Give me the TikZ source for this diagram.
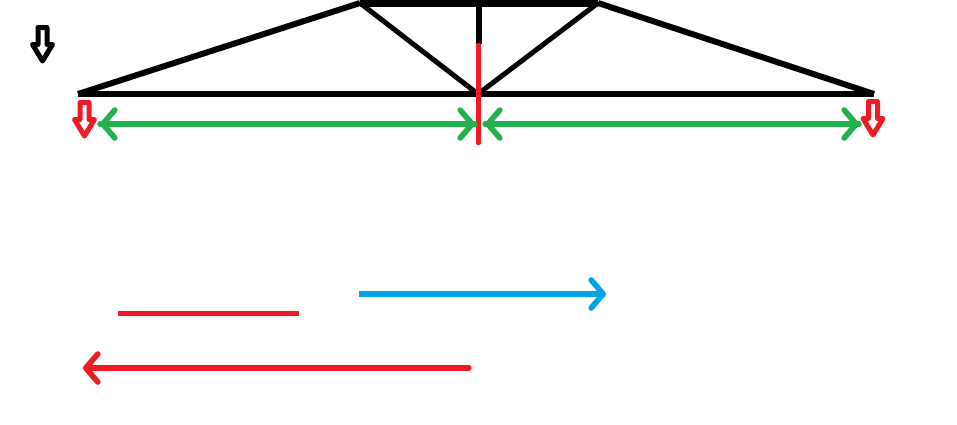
\documentclass[tikz,border=0pt]{standalone}
\usetikzlibrary{arrows.meta}
\definecolor{pred}{HTML}{ED1C24}
\definecolor{pgreen}{HTML}{22B14C}
\definecolor{pblue}{HTML}{00A2E8}
\tikzset{
  chord/.style={black,line width=6.5pt},
  web/.style={black,line width=5pt},
  barb/.style={-{Straight Barb[length=12pt,width=28pt,line width=5.6pt,round]},line width=5.4pt},
  greenarrow/.style={barb,pgreen,line cap=round},
  load/.style={line width=5pt,line join=round},
  hollowload/.pic={
    \draw[load,pic actions] (-4.5,0) -- (4.5,0) -- (4.5,17) -- (10,17) -- (0,33.5) -- (-10,17) -- (-4.5,17) -- cycle;
  }
}
\begin{document}
\begin{tikzpicture}[x=1pt,y=-1pt]
\useasboundingbox (0,0) rectangle (957,424);
\fill[white] (0,0) rectangle (957,424);
% truss joints
\coordinate (L) at (78,94);
\coordinate (R) at (874,94);
\coordinate (M) at (478,94);
\coordinate (TL) at (360,3);
\coordinate (TR) at (598,3);
\coordinate (TM) at (479,3);
\coordinate (VM) at (479,44);
\coordinate (VB) at (478.5,143);
\coordinate (VT) at (478.5,45);
% members
\draw[chord] (L) -- (R);
\draw[chord,line width=7pt] (TL) -- (TR);
\draw[line width=6pt] (L) -- (TL);
\draw[line width=6pt] (TR) -- (R);
\draw[web] (TL) -- (M);
\draw[web] (TR) -- (M);
\draw[line width=5.5pt] (TM) -- (VM);
\draw[pred,line width=4.6pt,line cap=round] (VT) -- (VB);
% hollow load arrows
\path (42.5,27.5) pic[black] {hollowload};
\path (84.5,102.5) pic[pred] {hollowload};
\path (873,101.5) pic[pred] {hollowload};
% green span arrows
\coordinate (GA) at (100,124);
\coordinate (GB) at (475,124);
\coordinate (GC) at (485,124);
\coordinate (GD) at (859,124);
\draw[greenarrow] (GB) -- (GA);
\draw[greenarrow] (GA) -- (GB);
\draw[greenarrow] (GD) -- (GC);
\draw[greenarrow] (GC) -- (GD);
% legend
\coordinate (B1) at (359,294);
\coordinate (B2) at (606,294);
\coordinate (RL1) at (118,313);
\coordinate (RL2) at (299,313);
\coordinate (RA1) at (469,368);
\coordinate (RA2) at (83,368);
\draw[barb,pblue] (B1) -- (B2);
\draw[pred,line width=5pt] (RL1) -- (RL2);
\draw[barb,pred,line cap=round] (RA1) -- (RA2);
\end{tikzpicture}
\end{document}
